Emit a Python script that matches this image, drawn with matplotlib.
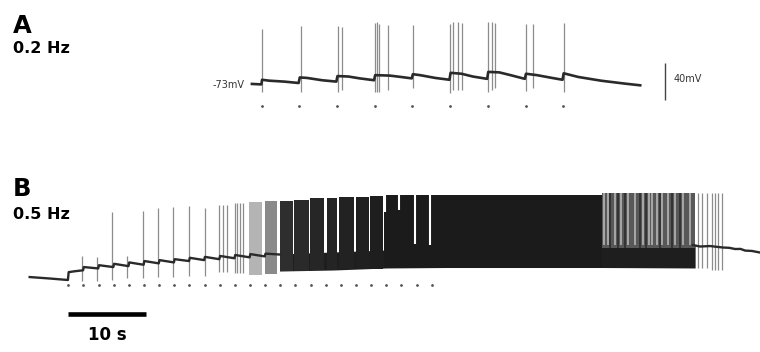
import matplotlib.pyplot as plt

# ----------------------------
# Panel A data (0.2 Hz), time in s, membrane potential in mV
# ----------------------------
a_stim = [0, 5, 10, 15, 20, 25, 30, 35, 40]
a_dot_level = -98

a_trace_t = [-1.3, -0.05, 0.05, 1.0, 3.0, 4.9, 5.05, 6.0, 8.0, 9.9, 10.05, 11.5, 13.0,
             14.9, 15.05, 17.0, 18.5, 19.9, 20.05, 21.0, 23.0, 24.9, 25.05, 26.5, 28.0,
             29.9, 30.05, 31.5, 33.0, 34.9, 35.05, 36.5, 38.5, 39.9, 40.05, 42.0, 45.0,
             48.0, 50.2]
a_trace_mv = [-74, -74.5, -69.5, -70.5, -71.5, -73, -67, -67.5, -70, -71.5, -65.5, -66, -68,
              -70, -64.5, -65, -66.5, -68, -63.5, -64.5, -67.5, -69.5, -62, -63, -66,
              -68.5, -61, -61.5, -64.5, -68.5, -63, -64.5, -67.5, -69.5, -62.5, -66.5, -70.5,
              -73.5, -75.5]

a_spike_t = [0.08, 5.17, 10.16, 10.6, 15.03, 15.33, 15.6, 16.7, 20.1, 24.97, 25.37, 26.0,
             26.5, 30.05, 30.5, 30.9, 35.1, 36.0, 40.1]
a_spike_top = [-14.6, -11.4, -11.4, -12.5, -8.1, -7.0, -9.2, -10.3, -10.3, -9.2, -7.0, -7.0,
               -8.1, -7.0, -7.0, -8.1, -9.2, -9.2, -8.1]
a_spike_bot = [-82.7, -82.7, -82.7, -80.6, -82.7, -82.7, -82.7, -80.6, -78.4, -83.8, -80.6,
               -80.6, -80.6, -82.7, -80.6, -78.4, -81.6, -78.4, -82.7]

# ----------------------------
# Panel B data (0.5 Hz)
# ----------------------------
b_stim = [0, 2, 4, 6, 8, 10, 12, 14, 16, 18, 20, 22, 24, 26, 28, 30, 32, 34, 36, 38, 40,
          42, 44, 46, 48]
b_dot_level = -80.4

b_trace_t = [-5.1, -2.4, -0.05, 0.05, 0.9, 1.95, 2.05, 3.95, 4.05, 5.95, 6.05, 7.95, 8.05,
             9.95, 10.05, 11.95, 12.05, 13.95, 14.05, 15.95, 16.05, 17.95, 18.05, 19.95,
             20.05, 21.95, 22.05, 23.95, 24.05, 25.95, 26.05, 28.0]
b_trace_mv = [-71.8, -73.4, -75, -66.5, -65.5, -64.5, -61, -62.5, -59, -61, -57.5, -60, -56,
              -58.5, -54.5, -57, -53.5, -56, -52.5, -54.5, -51, -53.5, -50, -52.5,
              -49, -51.5, -48, -50.5, -47, -49.5, -46.5, -47.5]

# trace after the burst ends
b_tail_t = [82.5, 83.45, 84.77, 86.49, 87.3, 88.08, 88.8, 89.4, 90.3, 91.37]
b_tail_mv = [-37.2, -38.8, -38.3, -39.9, -40.2, -41.5, -41.4, -43.2, -43.6, -45.3]

# single spikes (before the burst and after it)
b_spike_t = [1.77, 3.83, 5.81, 7.79, 9.91, 11.89, 13.87, 15.9, 18.06, 19.95, 20.4, 20.92,
             22.02, 22.33, 22.68, 23.12, 83.19, 83.71, 84.37, 85.03, 85.43, 85.82, 86.35]
b_spike_top = [-49.1, -49.8, -1.8, -49.1, -0.4, 2.5, 4.2, 5.3, 3.2, 6.1, 6.1, 6.1,
               7.9, 7.9, 7.9, 7.9, 19, 19, 19, 19, 19, 19, 19]
b_spike_bot = [-76.1, -76.1, -75.0, -72.8, -72.8, -71.8, -71.8, -70.7, -70.7, -66.4, -66.4,
               -66.4, -67.4, -67.4, -67.4, -67.4, -62, -62, -62, -64.2, -64.2, -64.2, -64.2]

# spike clusters too dense to resolve: start, end, upper and lower envelope
blk_t0 = [23.87, 25.98, 27.97, 29.81, 31.99, 34.11, 35.76, 37.94, 39.92, 41.7, 70.5]
blk_t1 = [25.65, 27.63, 29.62, 31.79, 33.84, 35.56, 37.68, 39.72, 41.51, 70.5, 82.8]
blk_top = [9.3, 10.4, 10.7, 12.0, 13.1, 13.6, 14.2, 14.7, 15.3, 16.9, 19.0]
blk_bot = [-69.6, -68.5, -65.3, -65.3, -64.2, -64.2, -63.1, -63.1, -62.6, -61.5, -40.0]
blk_shade = ['#b4b4b4', '#8a8a8a', '#2e2e2e', '#2a2a2a', '#262626', '#242424', '#222222',
             '#202020', '#1e1e1e', '#1b1b1b', '#585858']

# depolarised band under the burst
band_t = [27.9, 35.0, 42.0, 50.0, 70.5, 82.8]
band_top = [-46.9, -44.7, -42.6, -40.4, -37.2, -37.2]
band_bot = [-65.3, -64.2, -62.0, -61.5, -61.5, -62.0]

# short pauses inside the solid burst
notch_t = [41.77, 43.75, 45.8, 47.78]
notch_bot = [-1.2, 0.7, -36.1, -37.2]

# light / dark stripes in the fading part of the burst
light_t = [70.77, 71.3, 72.22, 73.0, 73.94, 74.86, 75.92, 76.71, 77.11, 77.77, 78.43, 79.21,
           80.14, 81.2, 82.12]
dark_t = [71.56, 72.6, 73.54, 75.52, 76.3, 78.16, 79.7, 80.8]

# ----------------------------
# Plot
# ----------------------------
fig = plt.figure(figsize=(7.6, 3.52), dpi=100)

axA = fig.add_axes([0, 0.5, 1, 0.5])
axB = fig.add_axes([0, 0, 1, 0.5])
for ax in (axA, axB):
    ax.axis('off')

axA.set_xlim(-34.71, 66.09)
axA.set_ylim(-173.5, 16.7)
axB.set_xlim(-9.02, 91.37)
axB.set_ylim(-152.8, 37.4)

# Panel A
axA.vlines(a_spike_t, a_spike_bot, a_spike_top, color='#8c8c8c', lw=0.9, zorder=2)
axA.plot(a_trace_t, a_trace_mv, color='#2a2a2a', lw=1.9, zorder=3)
axA.scatter(a_stim, [a_dot_level] * len(a_stim), s=4, color='#555555', lw=0)

axA.text(-2.3, -75, '-73mV', ha='right', va='center', fontsize=7, color='#333333')
axA.vlines(53.5, -91, -51, color='#444444', lw=1)
axA.text(54.6, -68.7, '40mV', ha='left', va='center', fontsize=7, color='#333333')

# Panel B
axB.fill_between(band_t, band_bot, band_top, color='#1e1e1e', lw=0, zorder=2)
for t0, t1, top, bot, c in zip(blk_t0, blk_t1, blk_top, blk_bot, blk_shade):
    axB.bar(t0, top - bot, bottom=bot, width=t1 - t0, align='edge', color=c, lw=0, zorder=2)
axB.vlines(light_t, -37, 19, color='#bdbdbd', lw=1.1, zorder=3)
axB.vlines(dark_t, -40, 19, color='#2a2a2a', lw=1.1, zorder=3)
axB.vlines(notch_t, notch_bot, 18, color='white', lw=1.5, zorder=3)

axB.vlines(b_spike_t, b_spike_bot, b_spike_top, color='#8c8c8c', lw=0.9, zorder=2)
axB.plot(b_trace_t, b_trace_mv, color='#2a2a2a', lw=1.7, zorder=3)
axB.plot(b_tail_t, b_tail_mv, color='#2a2a2a', lw=1.7, zorder=3)
axB.scatter(b_stim, [b_dot_level] * len(b_stim), s=4, color='#555555', lw=0)

# 10 s scale bar
axB.hlines(-111.8, 0, 10.3, color='black', lw=3.3)

fig.text(0.0171, 0.9063, 'A', fontsize=17.5, fontweight='bold', va='baseline')
fig.text(0.0171, 0.8486, '0.2 Hz', fontsize=11.5, fontweight='bold', va='baseline')
fig.text(0.0171, 0.4432, 'B', fontsize=17.5, fontweight='bold', va='baseline')
fig.text(0.0171, 0.377, '0.5 Hz', fontsize=11.5, fontweight='bold', va='baseline')
fig.text(0.1414, 0.0341, '10 s', fontsize=12, fontweight='bold', ha='center', va='baseline')

fig.savefig('out.png', dpi=100, facecolor='white')
